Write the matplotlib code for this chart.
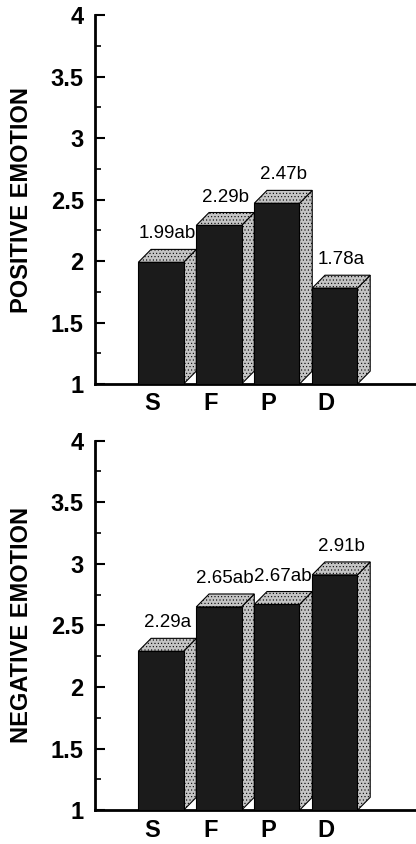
import matplotlib
matplotlib.use('Agg')
import matplotlib.pyplot as plt
from matplotlib.patches import Polygon
from matplotlib.ticker import MultipleLocator

plt.rcParams['font.family'] = ['Liberation Sans', 'DejaVu Sans']
plt.rcParams['hatch.color'] = '#7a7a7a'
plt.rcParams['hatch.linewidth'] = 0.4

conds = ['S', 'F', 'P', 'D']
pos_vals = [1.99, 2.29, 2.47, 1.78]
pos_tags = ['1.99ab', '2.29b', '2.47b', '1.78a']
neg_vals = [2.29, 2.65, 2.67, 2.91]
neg_tags = ['2.29a', '2.65ab', '2.67ab', '2.91b']

W = 0.78      # front face width
DX = 0.22     # depth, x units
DY = 0.105    # depth, y units
FRONT = '#1b1b1b'
SIDE = '#c4c4c4'


def bars3d(ax, vals, tags, ylab):
	xs = list(range(len(vals)))
	ax.bar(xs, [v - 1 for v in vals], bottom=1, width=W, color=FRONT,
		edgecolor='black', linewidth=0.8, zorder=3)
	for x, v, t in zip(xs, vals, tags):
		l, r = x - W / 2, x + W / 2
		side = Polygon([(r, 1), (r + DX, 1 + DY), (r + DX, v + DY), (r, v)],
			closed=True, facecolor=SIDE, edgecolor='black', linewidth=0.8,
			hatch='.....', zorder=2)
		top = Polygon([(l, v), (l + DX, v + DY), (r + DX, v + DY), (r, v)],
			closed=True, facecolor=SIDE, edgecolor='black', linewidth=0.8,
			hatch='.....', zorder=2)
		ax.add_patch(side)
		ax.add_patch(top)
		ax.annotate(t, (x + DX / 2, v + DY), xytext=(0, 5), textcoords='offset points',
			ha='center', va='bottom', fontsize=13.5, zorder=5)
	ax.set_xlim(-1.14, 4.4)
	ax.set_ylim(1, 4)
	ax.yaxis.set_major_locator(MultipleLocator(0.5))
	ax.yaxis.set_minor_locator(MultipleLocator(0.25))
	ax.set_yticks([1, 1.5, 2, 2.5, 3, 3.5, 4])
	ax.set_yticklabels(['1', '1.5', '2', '2.5', '3', '3.5', '4'], fontweight='bold', fontsize=17)
	ax.set_xticks([x - 0.15 for x in xs])
	ax.set_xticklabels(conds, fontweight='bold', fontsize=17)
	ax.tick_params(axis='x', length=0, pad=6)
	ax.tick_params(axis='y', which='major', direction='in', length=7, width=1.5, pad=8)
	ax.tick_params(axis='y', which='minor', direction='in', length=4, width=1.2)
	for s in ['top', 'right']:
		ax.spines[s].set_visible(False)
	ax.spines['left'].set_linewidth(2)
	ax.spines['bottom'].set_linewidth(2)
	ax.text(-0.228, 0.5, ylab, transform=ax.transAxes, rotation=90, ha='center',
		va='center', fontweight='bold', fontsize=17)


fig = plt.figure(figsize=(4.16, 8.44), dpi=100)
ax1 = fig.add_axes([0.228, 0.545, 0.772, 0.437])
ax2 = fig.add_axes([0.228, 0.040, 0.772, 0.438])
bars3d(ax1, pos_vals, pos_tags, 'POSITIVE EMOTION')
bars3d(ax2, neg_vals, neg_tags, 'NEGATIVE EMOTION')
fig.savefig('out.png', dpi=100)
